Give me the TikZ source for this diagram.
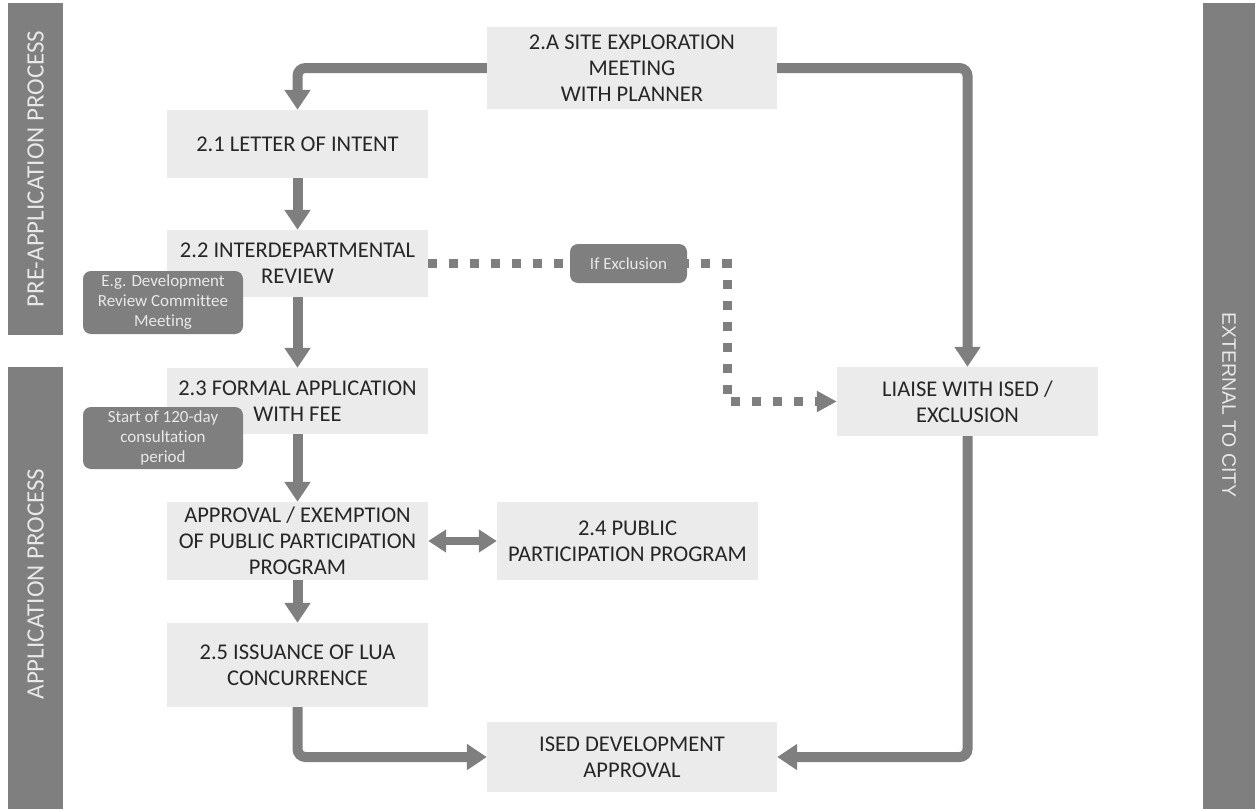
\documentclass[tikz,border=0pt]{standalone}
\usepackage{fontspec}
\setmainfont{Carlito}[Ligatures=NoCommon]
\newfontfamily\extfont{Liberation Sans}
\usetikzlibrary{arrows.meta}
\definecolor{bandgray}{HTML}{7F7F7F}
\definecolor{boxfill}{HTML}{EBEBEB}
\definecolor{txtdark}{HTML}{262626}
\definecolor{bandtxt}{HTML}{E8E8E8}
\begin{document}
\begin{tikzpicture}[x=1pt,y=-1pt,
  stepbox/.style={fill=boxfill, draw=none, inner sep=0pt, align=center, text=txtdark,
    font=\fontsize{22.5}{26}\selectfont},
  notebox/.style={fill=bandgray, rounded corners=8pt, inner sep=0pt, align=center, text=bandtxt,
    font=\fontsize{17}{20}\selectfont},
  bandlabel/.style={text=bandtxt, inner sep=0pt, font=\fontsize{25}{28}\selectfont},
  flow/.style={draw=bandgray, line width=10pt, rounded corners=8pt, -{Triangle[width=25pt,length=20pt]}},
  dotflow/.style={draw=bandgray, line width=9pt, dash pattern=on 9pt off 12pt, -{Triangle[width=20pt,length=20pt]}},
  bothflow/.style={draw=bandgray, line width=8pt, {Triangle[width=22pt,length=18pt]}-{Triangle[width=22pt,length=18pt]}}
]
\useasboundingbox (0,0) rectangle (1255,809);
\fill[white] (0,0) rectangle (1255,809);

% side bands
\fill[bandgray] (8,3) rectangle (63,335);
\node[bandlabel, rotate=90] (prelabel) at (35.5,169) {PRE-APPLICATION PROCESS};
\fill[bandgray] (8,367) rectangle (63,809);
\node[bandlabel, rotate=90] (applabel) at (35.5,584) {APPLICATION PROCESS};
\fill[bandgray] (1203,3) rectangle (1255,809);
\node[text=bandtxt, inner sep=0pt, rotate=-90, font=\extfont\fontsize{19.5}{22}\selectfont] (extlabel) at (1229,405) {EXTERNAL TO CITY};

% step boxes
\node[stepbox, minimum width=290pt, minimum height=82pt] (siteA) at (632,68) {2.A SITE EXPLORATION\\MEETING\\WITH PLANNER};
\node[stepbox, minimum width=261pt, minimum height=68pt] (l21) at (297.5,144) {2.1 LETTER OF INTENT};
\node[stepbox, minimum width=261pt, minimum height=67pt] (l22) at (297.5,263.5) {2.2 INTERDEPARTMENTAL\\REVIEW};
\node[stepbox, minimum width=261pt, minimum height=66pt] (l23) at (297.5,401) {2.3 FORMAL APPLICATION\\WITH FEE};
\node[stepbox, minimum width=261pt, minimum height=78pt] (appr) at (297.5,541) {APPROVAL / EXEMPTION\\OF PUBLIC PARTICIPATION\\PROGRAM};
\node[stepbox, minimum width=261pt, minimum height=78pt] (pp24) at (627.5,541) {2.4 PUBLIC\\PARTICIPATION PROGRAM};
\node[stepbox, minimum width=261pt, minimum height=84pt] (l25) at (297.5,665) {2.5 ISSUANCE OF LUA\\CONCURRENCE};
\node[stepbox, minimum width=290pt, minimum height=70pt] (ised) at (632,757) {ISED DEVELOPMENT\\APPROVAL};
\node[stepbox, minimum width=261pt, minimum height=69pt] (liaise) at (967.5,401.5) {LIAISE WITH ISED /\\EXCLUSION};

% connectors
\draw[flow] (siteA.west) -| (l21.north);
\draw[flow] (siteA.east) -| (liaise.north);
\draw[flow] (l21.south) -- (l22.north);
\draw[flow] (l22.south) -- (l23.north);
\draw[flow] (l23.south) -- (appr.north);
\draw[flow] (appr.south) -- (l25.north);
\draw[bothflow] (appr.east) -- (pp24.west);
\draw[flow] (l25.south) |- (ised.west);
\draw[flow] (liaise.south) |- (ised.east);
\draw[dotflow] (l22.east) -- ++(299,0) |- (liaise.west);

% notes
\node[notebox, minimum width=117pt, minimum height=39pt] (ifex) at (628.5,263.5) {If Exclusion};
\node[notebox, minimum width=160pt, minimum height=63pt] (note1) at (163,302.5) {E.g. Development\\Review Committee\\Meeting};
\node[notebox, minimum width=160pt, minimum height=62pt] (note2) at (163,438) {Start of 120-day\\consultation\\period};
\end{tikzpicture}
\end{document}
